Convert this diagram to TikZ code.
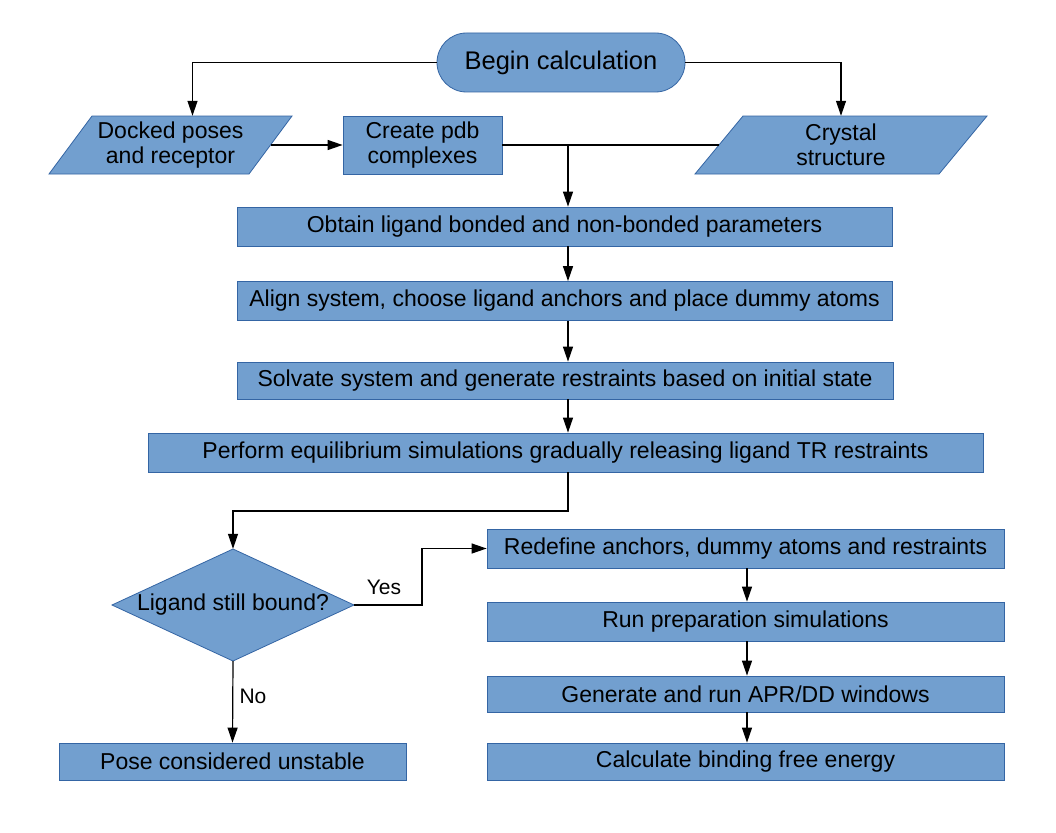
\documentclass[tikz,border=0pt]{standalone}
\usepackage{fontspec}
\setmainfont{Liberation Sans}
\usetikzlibrary{arrows.meta,shapes.geometric}
\definecolor{boxfill}{HTML}{729FCF}
\definecolor{boxline}{HTML}{3465A4}
\begin{document}
\begin{tikzpicture}[x=1pt,y=-1pt,
  box/.style={draw=boxline,fill=boxfill,line width=0.8pt,inner sep=0pt,align=center,
    font=\fontsize{23}{25.5}\selectfont},
  txt/.style={inner sep=0pt,align=center,font=\fontsize{23}{25.5}\selectfont},
  conn/.style={line width=1.2pt,-{Triangle[length=15pt,width=10pt]}},
  plain/.style={line width=1.2pt},
  lbl/.style={font=\fontsize{21}{24}\selectfont,inner sep=0pt}]
\useasboundingbox[fill=white] (0,0) rectangle (1056,832);

% start
\node[box,rounded corners=29.5pt,minimum width=248pt,minimum height=59pt,
  font=\fontsize{25.5}{28}\selectfont] (begin) at (561,62.5) {Begin calculation};

% input parallelograms
\filldraw[draw=boxline,fill=boxfill,line width=0.8pt] (49,174) -- (92,116) -- (292,116) -- (249,174) -- cycle;
\node[txt,minimum width=200pt,minimum height=58pt] (docked) at (170.5,145) {Docked poses\\and receptor};
\filldraw[draw=boxline,fill=boxfill,line width=0.8pt] (695,174) -- (743,116) -- (987,116) -- (939,174) -- cycle;
\node[txt,minimum width=244pt,minimum height=58pt] (crystal) at (841,145) {Crystal\\structure};

\node[box,minimum width=159pt,minimum height=58pt] (pdb) at (422.5,145) {Create pdb\\complexes};

% main chain
\node[box,minimum width=655pt,minimum height=39pt] (obtain) at (564.5,226.5) {Obtain ligand bonded and non-bonded parameters};
\node[box,minimum width=655pt,minimum height=39pt] (align) at (564.5,301) {Align system, choose ligand anchors and place dummy atoms};
\node[box,minimum width=656pt,minimum height=37pt] (solvate) at (565,380.5) {Solvate system and generate restraints based on initial state};
\node[box,minimum width=835pt,minimum height=39pt] (perform) at (565.5,452.5) {Perform equilibrium simulations gradually releasing ligand TR restraints};

% decision
\filldraw[draw=boxline,fill=boxfill,line width=0.8pt] (112,605) -- (233,549) -- (354,605) -- (233,661) -- cycle;
\node[txt,minimum width=242pt,minimum height=112pt] (dia) at (233,605) {Ligand still bound?};

% right column
\node[box,minimum width=517pt,minimum height=39pt] (redefine) at (745.5,548.5) {Redefine anchors, dummy atoms and restraints};
\node[box,minimum width=517pt,minimum height=39pt] (run) at (745.5,621.5) {Run preparation simulations};
\node[box,minimum width=517pt,minimum height=36pt] (gen) at (745.5,694) {Generate and run APR/DD windows};
\node[box,minimum width=517pt,minimum height=37pt] (calc) at (745.5,761.5) {Calculate binding free energy};

% left result
\node[box,minimum width=347pt,minimum height=37pt] (pose) at (232.5,761.5) {Pose considered unstable};

% helper coordinates
\coordinate (j) at (568,145);
\coordinate (bend) at (568,511);
\coordinate (ybend) at (422,0);
\coordinate (r) at (747,0);

% connectors
\draw[conn] (begin.west) -| ([xshift=22pt]docked.north);
\draw[conn] (begin.east) -| (crystal.north);
\draw[conn] (docked.east) -- (pdb.west);
\draw[plain] (pdb.east) -- (crystal.west);
\draw[conn] (j) -- (j |- obtain.north);
\draw[conn] (j |- obtain.south) -- (j |- align.north);
\draw[conn] (j |- align.south) -- (j |- solvate.north);
\draw[conn] (j |- solvate.south) -- (j |- perform.north);
\draw[conn] (j |- perform.south) -- (bend) -| (dia.north);
\draw[conn] (dia.east) -| (ybend |- redefine.west) -- (redefine.west);
\draw[conn] (dia.south) -- (pose.north);
\draw[conn] (r |- redefine.south) -- (r |- run.north);
\draw[conn] (r |- run.south) -- (r |- gen.north);
\draw[conn] (r |- gen.south) -- (r |- calc.north);

% labels
\node[lbl] (yes) at (384,587) {Yes};
\node[lbl] (no) at (253,696) {No};
\end{tikzpicture}
\end{document}
